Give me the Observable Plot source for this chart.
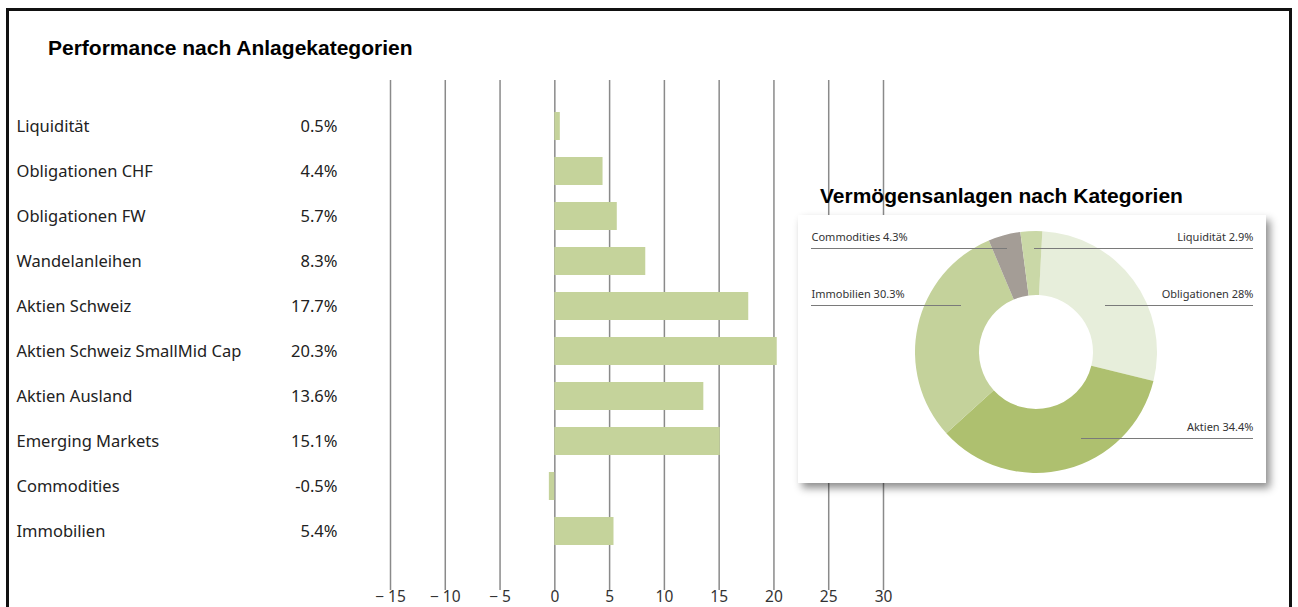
<!DOCTYPE html>
<html>
<head>
<meta charset="utf-8">
<script src="https://cdn.jsdelivr.net/npm/d3@7"></script>
<script src="https://cdn.jsdelivr.net/npm/@observablehq/plot@0.6"></script>
<style>
  html, body { margin: 0; padding: 0; background: #fff; overflow: hidden; }
  #page { position: relative; width: 1298px; height: 607px; overflow: hidden; background: #fff; }
  #frame { position: absolute; left: 6px; top: 8px; width: 1280px; height: 660px; border: 3px solid #111; pointer-events: none; }
  #chart1 { position: absolute; left: 0; top: 0; }
  .title { position: absolute; font-family: "Liberation Sans", Arial, sans-serif; font-weight: bold; font-size: 21px; line-height: 1; color: #000; white-space: nowrap; }
  #title1 { left: 48px; top: 37px; }
  #title2 { left: 820px; top: 185px; }
  #box { position: absolute; left: 798px; top: 215px; width: 468px; height: 268px; background: #fff; box-shadow: 4px 5px 8px rgba(0,0,0,0.45); }
</style>
</head>
<body>
<div id="page">
  <div id="chart1"></div>
  <div id="title1" class="title">Performance nach Anlagekategorien</div>
  <div id="title2" class="title">Vermögensanlagen nach Kategorien</div>
  <div id="box"></div>
  <div id="frame"></div>
</div>
<script>
// ---------- Data: Performance nach Anlagekategorien ----------
const perfCategories = ["Liquidität", "Obligationen CHF", "Obligationen FW", "Wandelanleihen", "Aktien Schweiz",
  "Aktien Schweiz SmallMid Cap", "Aktien Ausland", "Emerging Markets", "Commodities", "Immobilien"];
const perfValues = [0.5, 4.4, 5.7, 8.3, 17.7, 20.3, 13.6, 15.1, -0.5, 5.4];
const xTicks = [-15, -10, -5, 0, 5, 10, 15, 20, 25, 30];

// ---------- Data: Vermögensanlagen nach Kategorien ----------
const allocNames = ["Obligationen", "Aktien", "Immobilien", "Commodities", "Liquidität"];
const allocValues = [28, 34.4, 30.3, 4.3, 2.9];
const allocColors = ["#e7eedb", "#aec06f", "#c4d29b", "#a49d96", "#cad8a7"];

// annotation layout (label side, leader row offset and inner end, relative to donut centre)
const annSide = ["right", "right", "left", "left", "right"];
const annRowY = [-47, 86, -47, -104, -104];
const annInnerX = [69, 45, -75, -29, -2];

const perf = perfCategories.map((name, i) => ({name, value: perfValues[i]}));
const alloc = allocNames.map((name, i) => ({name, value: allocValues[i], color: allocColors[i],
  side: annSide[i], rowY: annRowY[i], innerX: annInnerX[i]}));

const font = "'Noto Sans', 'Open Sans', sans-serif";

const chart1 = Plot.plot({
  width: 1298,
  height: 607,
  marginLeft: 390,
  marginRight: 415,
  marginTop: 80,
  marginBottom: 17,
  style: {background: "transparent", fontFamily: font, color: "#222", overflow: "visible"},
  x: {domain: [-15, 30], axis: null, label: null},
  y: {domain: perfCategories, range: [103.5, 553.5], paddingInner: 0.38, paddingOuter: 0.19, axis: null, label: null},
  marks: [
    Plot.ruleX(xTicks, {stroke: "#8a8a8a", strokeWidth: 1.5}),
    Plot.barX(perf, {x: "value", y: "name", fill: "#c5d39b"}),
    Plot.text(perf, {y: "name", text: "name", frameAnchor: "left", dx: -374, textAnchor: "start", fontSize: 16.5, fill: "#222"}),
    Plot.text(perf, {y: "name", text: d => `${d.value.toFixed(1)}%`, frameAnchor: "left", dx: -53, textAnchor: "end", fontSize: 16.5, fill: "#222"}),
    Plot.axisX({ticks: xTicks, tickSize: 0, tickPadding: 0, fontSize: 15.5, fill: "#333",
      tickFormat: d => d < 0 ? `\u2212 ${-d}` : `${d}`})
  ]
});
document.getElementById("chart1").appendChild(chart1);

// donut drawn with d3.arc inside a Plot custom mark, using the plot's scales
const outerR = 121, innerR = 57, startAngle = 3 * Math.PI / 180;
const donutMark = (index, scales) => {
  const cx = scales.x(0), cy = scales.y(0);
  const k = scales.x(1) - scales.x(0);
  const pie = d3.pie().sort(null).value(d => d.value).startAngle(startAngle).endAngle(startAngle + 2 * Math.PI);
  const arc = d3.arc().innerRadius(innerR * k).outerRadius(outerR * k);
  const g = d3.create("svg:g").attr("transform", `translate(${cx},${cy})`);
  g.selectAll("path").data(pie(alloc)).join("path").attr("d", arc).attr("fill", d => d.data.color);
  return g.node();
};

const leftX = -225, rightX = 217;
const leftAnn = alloc.filter(d => d.side === "left");
const rightAnn = alloc.filter(d => d.side === "right");
const chart2 = Plot.plot({
  width: 468,
  height: 268,
  margin: 0,
  style: {background: "transparent", fontFamily: font, overflow: "visible"},
  x: {domain: [-238, 230], range: [0, 468], axis: null},
  y: {domain: [-137, 131], range: [0, 268], axis: null},
  marks: [
    donutMark,
    Plot.ruleY(leftAnn, {y: "rowY", x1: leftX, x2: "innerX", stroke: "#7a7a7a", strokeWidth: 1}),
    Plot.ruleY(rightAnn, {y: "rowY", x1: "innerX", x2: rightX, stroke: "#7a7a7a", strokeWidth: 1}),
    Plot.text(leftAnn, {x: leftX, y: d => d.rowY - 11, text: d => `${d.name} ${d.value}%`, textAnchor: "start", fontSize: 11, fill: "#333"}),
    Plot.text(rightAnn, {x: rightX, y: d => d.rowY - 11, text: d => `${d.name} ${d.value}%`, textAnchor: "end", fontSize: 11, fill: "#333"})
  ]
});
document.getElementById("box").appendChild(chart2);
</script>
</body>
</html>
